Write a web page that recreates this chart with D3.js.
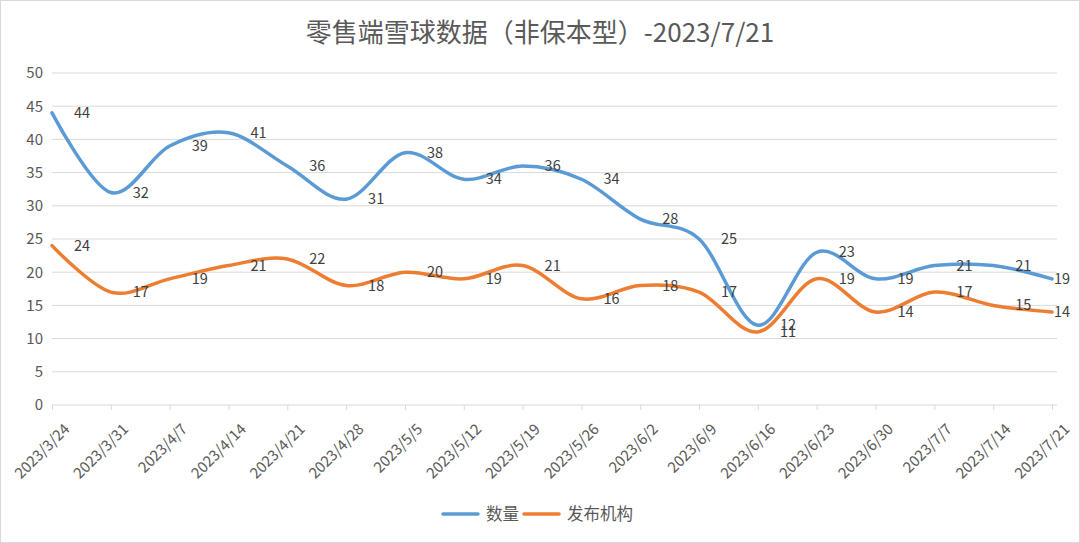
<!DOCTYPE html>
<html><head><meta charset="utf-8">
<script src="https://cdn.jsdelivr.net/npm/d3@7"></script>
<style>body{margin:0;background:#fff}svg{display:block}</style>
</head><body>
<svg id="c" width="1080" height="543"></svg>
<script>
const title = "零售端雪球数据（非保本型）-2023/7/21";
const categories = ["2023/3/24","2023/3/31","2023/4/7","2023/4/14","2023/4/21","2023/4/28","2023/5/5","2023/5/12","2023/5/19","2023/5/26","2023/6/2","2023/6/9","2023/6/16","2023/6/23","2023/6/30","2023/7/7","2023/7/14","2023/7/21"];
const seriesNames = ["数量","发布机构"];
const countValues = [44,32,39,41,36,31,38,34,36,34,28,25,12,23,19,21,21,19];
const issuerValues = [24,17,19,21,22,18,20,19,21,16,18,17,11,19,14,17,15,14];
const yTicks = [0,5,10,15,20,25,30,35,40,45,50];
const colors = ["#5b9bd5","#ed7d31"];

const svg = d3.select("#c");
const font = "'Microsoft YaHei','Noto Sans CJK SC','DejaVu Sans',sans-serif";
svg.append("rect").attr("x",0.5).attr("y",0.5).attr("width",1079).attr("height",542)
  .attr("fill","#fff").attr("stroke","#d9d9d9");

const x = d3.scalePoint().domain(categories).range([52,1052]);
const y = d3.scaleLinear().domain([0,50]).range([405,73]);

// gridlines
svg.append("g").selectAll("line").data(yTicks.filter(d=>d>0)).join("line")
  .attr("x1",52).attr("x2",1057).attr("y1",d=>y(d)).attr("y2",d=>y(d))
  .attr("stroke","#d9d9d9").attr("stroke-width",1);

// y axis labels
const yAxis = d3.axisLeft(y).tickValues(yTicks).tickSize(0).tickPadding(9);
const gy = svg.append("g").attr("transform","translate(52,0)").call(yAxis);
gy.select(".domain").remove();
gy.selectAll("text").attr("fill","#595959").style("font-size","15px").style("font-family",font);

// x axis
const xAxis = d3.axisBottom(x).tickSizeInner(5).tickSizeOuter(0).tickPadding(4);
const gx = svg.append("g").attr("transform","translate(0,405)").call(xAxis);
gx.select(".domain").attr("d","M52,0H1057").attr("stroke","#d9d9d9");
gx.selectAll(".tick line").attr("stroke","#d9d9d9");
gx.selectAll("text").attr("fill","#595959").style("font-size","15px").style("font-family",font)
  .attr("text-anchor","end").attr("dy","0.35em")
  .attr("transform","translate(8,15) rotate(-45)");

// lines
const line = d3.line().x((d,i)=>x(categories[i])).y(d=>y(d)).curve(d3.curveCatmullRom.alpha(0));
[countValues, issuerValues].forEach((vals,k)=>{
  svg.append("path").datum(vals).attr("d",line).attr("fill","none")
    .attr("stroke",colors[k]).attr("stroke-width",3.5).attr("stroke-linecap","round");
});
// data labels
const last = categories.length - 1;
[countValues, issuerValues].forEach((vals,k)=>{
  svg.append("g").selectAll("text").data(vals).join("text")
    .attr("x",(d,i)=>x(categories[i]) + (i===last ? 2 : 22)).attr("y",d=>y(d)).attr("dy","0.35em")
    .attr("fill","#404040").style("font-size","14.5px").style("font-family",font)
    .attr("text-anchor","start").text(d=>d);
});

// title
svg.append("text").attr("x",540).attr("y",42).attr("text-anchor","middle")
  .attr("fill","#595959").style("font-size","26px").style("font-family",font).text(title);

// legend
const lg = svg.append("g");
const items = [{x:443,name:seriesNames[0],c:colors[0]},{x:524,name:seriesNames[1],c:colors[1]}];
items.forEach(it=>{
  lg.append("line").attr("x1",it.x).attr("x2",it.x+35).attr("y1",514).attr("y2",514)
    .attr("stroke",it.c).attr("stroke-width",3.5).attr("stroke-linecap","round");
  lg.append("text").attr("x",it.x+43).attr("y",514).attr("dy","0.35em").attr("fill","#595959")
    .style("font-size","16.5px").style("font-family",font).text(it.name);
});
</script>
</body></html>
